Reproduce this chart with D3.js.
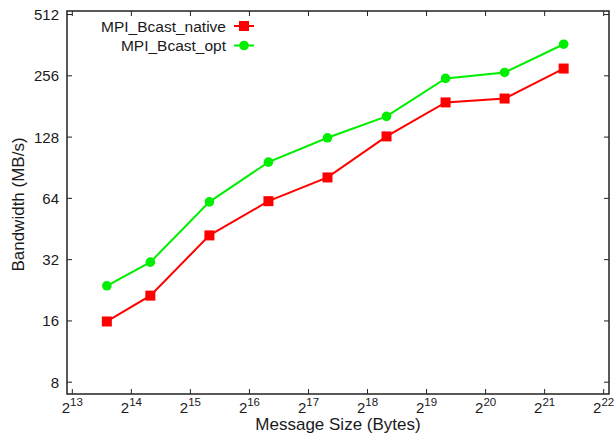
<!DOCTYPE html>
<html>
<head>
<meta charset="utf-8">
<script src="https://cdn.jsdelivr.net/npm/d3@7/dist/d3.min.js"></script>
<style>
  body { margin: 0; background: #fff; }
  text { font-family: "Liberation Sans", Arial, sans-serif; fill: #1a1a1a; }
</style>
</head>
<body>
<div id="chart"></div>
<script>
// message sizes in bytes
const sizes = [12288, 20480, 40960, 81920, 163840, 327680, 655360, 1310720, 2621440];
const nativeBw = [15.9, 21.3, 42.1, 62.0, 81.1, 129, 189.5, 198, 278];
const optBw = [23.8, 31.1, 61.5, 96.4, 127, 161.8, 248.7, 266, 366];
const yTicks = [8, 16, 32, 64, 128, 256, 512];
const xExponents = [13, 14, 15, 16, 17, 18, 19, 20, 21, 22];

const W = 616, H = 435;
const margin = { top: 11, right: 7, bottom: 41, left: 67 };
const width = W - margin.left - margin.right;
const height = H - margin.top - margin.bottom;

const svg = d3.select("#chart").append("svg")
    .attr("width", W)
    .attr("height", H);

const g = svg.append("g")
    .attr("transform", `translate(${margin.left}, ${margin.top})`);

// pixel-matched domains (plot edges sit a bit past the outer ticks)
const xScale = d3.scaleLog().base(2)
    .domain([Math.pow(2, 12.91), Math.pow(2, 22.09)])
    .range([0, width]);

const yScale = d3.scaleLog().base(2)
    .domain([7.0, 533])
    .range([height, 0]);

const tickLen = 5;

// y ticks (left, mirrored on right)
const yt = g.selectAll(".ytick").data(yTicks).enter().append("g")
    .attr("transform", d => `translate(0, ${yScale(d)})`);
yt.append("line").attr("x1", 0).attr("x2", tickLen).attr("stroke", "#222").attr("stroke-width", 1);
yt.append("line").attr("x1", width).attr("x2", width - tickLen).attr("stroke", "#222").attr("stroke-width", 1);
yt.append("text")
    .attr("x", -8)
    .attr("dy", "0.36em")
    .attr("text-anchor", "end")
    .attr("font-size", 15)
    .text(d => d);

// x ticks (bottom, mirrored on top)
const xt = g.selectAll(".xtick").data(xExponents).enter().append("g")
    .attr("transform", d => `translate(${xScale(Math.pow(2, d))}, 0)`);
xt.append("line").attr("y1", height).attr("y2", height - tickLen).attr("stroke", "#222").attr("stroke-width", 1);
xt.append("line").attr("y1", 0).attr("y2", tickLen).attr("stroke", "#222").attr("stroke-width", 1);
const xl = xt.append("text")
    .attr("y", height + 19)
    .attr("text-anchor", "middle")
    .attr("font-size", 15);
xl.append("tspan").text("2");
xl.append("tspan").attr("dy", -7).attr("font-size", 11.5).text(d => d);

// border
g.append("rect")
    .attr("width", width)
    .attr("height", height)
    .attr("fill", "none")
    .attr("stroke", "#222")
    .attr("stroke-width", 1.5);

// axis labels
svg.append("text")
    .attr("transform", `translate(24, ${margin.top + height / 2 + 2}) rotate(-90)`)
    .attr("text-anchor", "middle")
    .attr("font-size", 17)
    .text("Bandwidth (MB/s)");

svg.append("text")
    .attr("x", 338)
    .attr("y", 430)
    .attr("text-anchor", "middle")
    .attr("font-size", 17)
    .text("Message Size (Bytes)");

const series = [
    { name: "MPI_Bcast_native", values: nativeBw, color: "#ff0000", marker: "square" },
    { name: "MPI_Bcast_opt", values: optBw, color: "#00ee00", marker: "circle" }
];

const line = d3.line()
    .x(d => xScale(d[0]))
    .y(d => yScale(d[1]));

function drawMarker(sel, s) {
    if (s.marker === "square") {
        sel.append("rect")
            .attr("x", -5).attr("y", -5)
            .attr("width", 10).attr("height", 10)
            .attr("fill", s.color);
    } else {
        sel.append("circle").attr("r", 4.8).attr("fill", s.color);
    }
}

series.forEach(s => {
    const pts = sizes.map((x, i) => [x, s.values[i]]);
    g.append("path")
        .datum(pts)
        .attr("d", line)
        .attr("fill", "none")
        .attr("stroke", s.color)
        .attr("stroke-width", 2);
    g.selectAll(null).data(pts).enter().append("g")
        .attr("transform", d => `translate(${xScale(d[0])}, ${yScale(d[1])})`)
        .each(function () { drawMarker(d3.select(this), s); });
});

// legend
const legend = svg.append("g");
series.forEach((s, i) => {
    const ly = 26 + i * 19.5;
    legend.append("text")
        .attr("x", 226)
        .attr("y", ly)
        .attr("dy", "0.36em")
        .attr("text-anchor", "end")
        .attr("font-size", 15.5)
        .text(s.name);
    legend.append("line")
        .attr("x1", 234).attr("x2", 254)
        .attr("y1", ly).attr("y2", ly)
        .attr("stroke", s.color)
        .attr("stroke-width", 2);
    const m = legend.append("g").attr("transform", `translate(244, ${ly})`);
    drawMarker(m, s);
});
</script>
</body>
</html>
